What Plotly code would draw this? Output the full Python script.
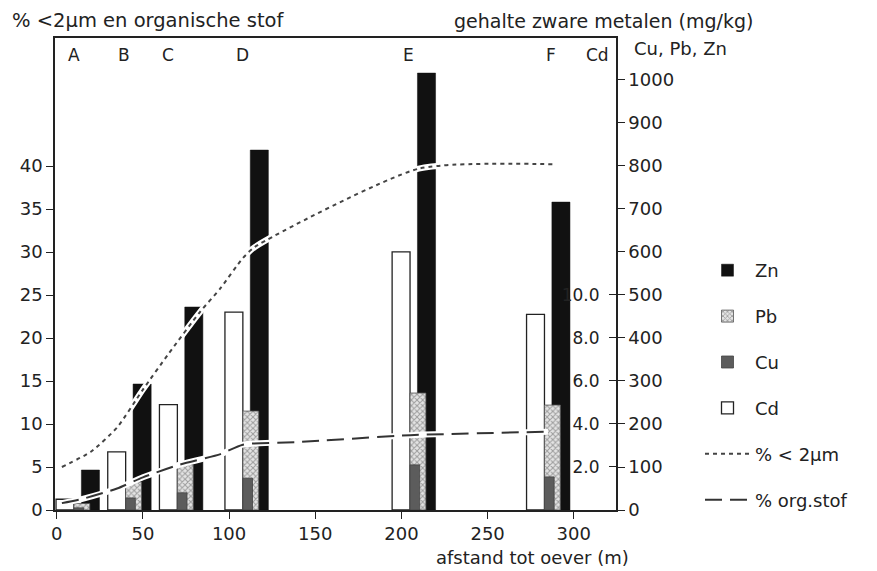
import plotly.graph_objects as go

# ---- data ----
locations = ["A", "B", "C", "D", "E", "F"]
distance = [10, 40, 70, 108, 205, 283]          # m
zn = [93, 293, 472, 837, 1016, 716]             # mg/kg
pb = [15, 65, 105, 230, 272, 244]
cu = [5, 28, 40, 74, 105, 77]
cd = [0.5, 2.7, 4.9, 9.2, 12.0, 9.1]

letter_x = [10, 39, 64.4, 108, 204, 287]

clay_x = [3, 20, 35, 50, 65, 83, 95, 108, 115, 210, 290]
clay_y = [5.0, 6.8, 9.6, 14.0, 18.2, 23.0, 25.8, 29.3, 30.6, 39.7, 40.2]

org_x = [3, 15, 35, 50, 70, 95, 108, 140, 205, 285]
org_y = [0.8, 1.3, 2.5, 3.8, 5.2, 6.5, 7.6, 7.9, 8.7, 9.1]

metal_ticks = [0, 100, 200, 300, 400, 500, 600, 700, 800, 900, 1000]
cd_ticks = [2, 4, 6, 8, 10]
cd_labels = ["2.0", "4.0", "6.0", "8.0", "10.0"]
pct_ticks = [0, 5, 10, 15, 20, 25, 30, 35, 40]
x_ticks = [0, 50, 100, 150, 200, 250, 300]

FONT = "DejaVu Sans"
TXT = "#222222"

fig = go.Figure()

# Cd bars (base y axis, Cd scale)
fig.add_trace(go.Bar(x=distance, y=cd, name="Cd", yaxis="y", offset=-10.4, width=10.4,
                     marker=dict(color="white", line=dict(color="#222", width=1.3)),
                     legendrank=4, legendgroup="cd"))
# metals (y2)
fig.add_trace(go.Bar(x=distance, y=zn, name="Zn", yaxis="y2", offset=4.3, width=10.5,
                     marker=dict(color="#111111", line=dict(color="#111", width=0.5)),
                     legendrank=1, legendgroup="zn"))
fig.add_trace(go.Bar(x=distance, y=pb, name="Pb", yaxis="y2", offset=0, width=9.2,
                     marker=dict(color="#cccccc", line=dict(color="#555", width=0.8),
                                 pattern=dict(shape="x", size=4, solidity=0.45,
                                              fgcolor="#555555", bgcolor="#e4e4e4")),
                     legendrank=2, legendgroup="pb"))
fig.add_trace(go.Bar(x=distance, y=cu, name="Cu", yaxis="y2", offset=0, width=5.6,
                     marker=dict(color="#5c5c5c", line=dict(color="#444", width=0.8)),
                     legendrank=3, legendgroup="cu"))

# lines (y3, percent)
fig.add_trace(go.Scatter(x=clay_x, y=clay_y, yaxis="y3", mode="lines", showlegend=False,
                         line=dict(color="white", width=6, shape="spline", smoothing=0.6),
                         hoverinfo="skip"))
fig.add_trace(go.Scatter(x=org_x, y=org_y, yaxis="y3", mode="lines", showlegend=False,
                         line=dict(color="white", width=6, shape="spline", smoothing=0.6),
                         hoverinfo="skip"))
fig.add_trace(go.Scatter(x=clay_x, y=clay_y, yaxis="y3", mode="lines", name="% < 2µm",
                         line=dict(color="#444", width=2, dash="4px,4px", shape="spline", smoothing=0.6),
                         legendrank=5, legendgroup="clay"))
fig.add_trace(go.Scatter(x=org_x, y=org_y, yaxis="y3", mode="lines", name="% org.stof",
                         line=dict(color="#333", width=2, dash="17px,8px", shape="spline", smoothing=0.6),
                         legendrank=6, legendgroup="org"))

# page has an 8px body margin: work in screen pixels and shift
OFF = 8
W, H = 877, 571
L, T = 55 - OFF, 38 - OFF
R = W - (616 - OFF)
B = H - (510 - OFF)
pw, ph = W - L - R, H - T - B

def px_x(p):
    return (p - OFF - L) / pw

def px_y(p):
    return (H - B - (p - OFF)) / ph

annotations = []
for lab, lx in zip(locations, letter_x):
    annotations.append(dict(x=lx, y=px_y(55), xref="x", yref="paper", text=lab, showarrow=False,
                            xanchor="center", yanchor="middle",
                            font=dict(family=FONT, size=17, color=TXT)))
annotations += [
    dict(x=313.5, y=px_y(55), xref="x", yref="paper", text="Cd", showarrow=False,
         xanchor="center", yanchor="middle", font=dict(family=FONT, size=17, color=TXT)),
    dict(x=px_x(10), y=px_y(21), xref="paper", yref="paper", text="% <2µm en organische stof",
         showarrow=False, xanchor="left", yanchor="middle", font=dict(family=FONT, size=19.5, color=TXT)),
    dict(x=px_x(452), y=px_y(21), xref="paper", yref="paper", text="gehalte zware metalen (mg/kg)",
         showarrow=False, xanchor="left", yanchor="middle", font=dict(family=FONT, size=19, color=TXT)),
    dict(x=px_x(632), y=px_y(48), xref="paper", yref="paper", text="Cu, Pb, Zn",
         showarrow=False, xanchor="left", yanchor="middle", font=dict(family=FONT, size=18, color=TXT)),
    dict(x=px_x(532), y=px_y(557), xref="paper", yref="paper", text="afstand tot oever (m)",
         showarrow=False, xanchor="center", yanchor="middle", font=dict(family=FONT, size=18, color=TXT)),
]

fig.update_layout(
    width=W, height=H,
    margin=dict(l=L, r=R, t=T, b=B),
    paper_bgcolor="white", plot_bgcolor="white",
    barmode="overlay",
    font=dict(family=FONT, size=18, color=TXT),
    xaxis=dict(range=[-1, 324.5], tickvals=x_ticks, ticks="outside", ticklen=7, tickwidth=1.3,
               tickcolor="#222", showline=True, linecolor="#222", linewidth=1.5, mirror=True,
               showgrid=False, zeroline=False, tickfont=dict(size=18)),
    yaxis=dict(range=[0, 21.95], anchor="free", position=1, side="left", tickvals=cd_ticks,
               ticktext=cd_labels, ticks="outside", ticklen=7, ticklabelstandoff=6,
               tickwidth=1.3, tickcolor="#222",
               showline=False, showgrid=False, zeroline=False, tickfont=dict(size=17)),
    yaxis2=dict(range=[0, 1097.6], overlaying="y", side="right", anchor="x", tickvals=metal_ticks,
                ticks="outside", ticklen=7, tickwidth=1.3, tickcolor="#222",
                showline=True, linecolor="#222", linewidth=1.5, showgrid=False, zeroline=False,
                tickfont=dict(size=18)),
    yaxis3=dict(range=[0, 54.9], overlaying="y", side="left", anchor="x", tickvals=pct_ticks,
                ticks="outside", ticklen=7, tickwidth=1.3, tickcolor="#222",
                showline=True, linecolor="#222", linewidth=1.5, showgrid=False, zeroline=False,
                tickfont=dict(size=18)),
    legend=dict(x=px_x(700), y=px_y(252), xanchor="left", yanchor="top",
                font=dict(family=FONT, size=18, color=TXT), tracegroupgap=19.5,
                itemwidth=45, traceorder="grouped", bgcolor="rgba(0,0,0,0)"),
    annotations=annotations,
)

fig.write_html("out.html")
